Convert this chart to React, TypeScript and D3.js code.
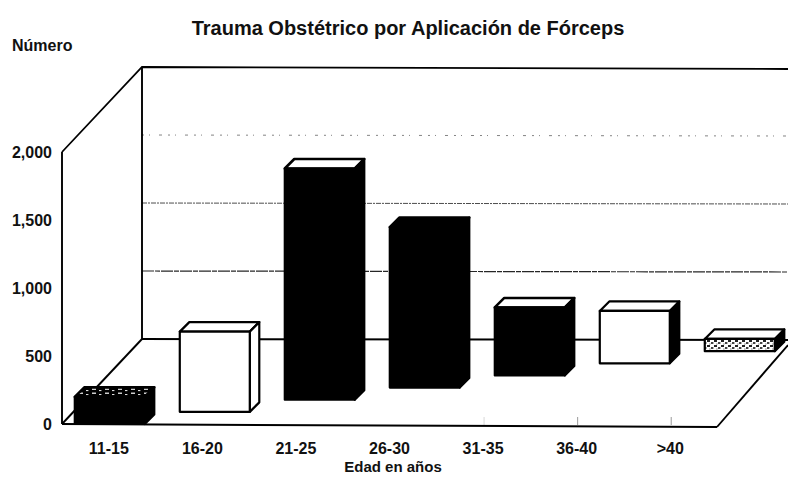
import React from "react";
import * as d3 from "d3";

const categories = ["11-15", "16-20", "21-25", "26-30", "31-35", "36-40", ">40"];
const values = [200, 590, 1700, 1180, 500, 385, 90];
const yTicks = [0, 500, 1000, 1500, 2000];
const title = "Trauma Obstétrico por Aplicación de Fórceps";
const yTitle = "Número";
const xTitle = "Edad en años";

const W = 788, H = 480;
const FONT = "'Liberation Sans', Arial, sans-serif";
const frontLeft = 62, frontRight = 717, frontBase = 424, frontTop = 152;
const depthX = 80, depthY = 85;

// face looks per bar: [front, top, side]
const looks = [
  ["#000", "url(#speck)", "#000"],
  ["#fff", "#fff", "#fff"],
  ["#000", "#fff", "#000"],
  ["#000", "#000", "#000"],
  ["#000", "#fff", "#000"],
  ["#fff", "#fff", "#000"],
  ["url(#speck2)", "#fff", "#000"],
];

const gridLooks = new Map<number, { dash: string; width: number; opacity: number }>([
  [500, { dash: "12 1 5 1", width: 1.2, opacity: 0.85 }],
  [1000, { dash: "5 1 2 1", width: 1, opacity: 0.7 }],
  [1500, { dash: "2 5 1 9 3 6", width: 0.9, opacity: 0.55 }],
]);

const x = d3.scaleBand<string>().domain(categories).range([frontLeft, frontRight]);
const y = d3.scaleLinear().domain([0, 2000]).range([frontBase, frontTop]);
const depth = d3.scaleLinear().domain([0, categories.length]).range([0, 1]);

const poly = (pts: [number, number][]) => {
  const p = d3.path();
  pts.forEach(([a, b], i) => (i ? p.lineTo(a, b) : p.moveTo(a, b)));
  p.closePath();
  return p.toString();
};

const labelStyle = { fontFamily: FONT, fontWeight: 700, fill: "#111" } as const;

export default function App() {
  const barW = 70;
  const barD = 9.5;
  return (
    <svg width={W} height={H} viewBox={`0 0 ${W} ${H}`} style={{ position: "absolute", left: 0, top: 0, background: "#fff" }}>
      <defs>
        <pattern id="speck" width="13" height="4" patternUnits="userSpaceOnUse">
          <rect width="13" height="4" fill="#000" />
          <rect x="1" y="0.6" width="4" height="1.2" fill="#fff" />
          <rect x="8" y="2" width="2.4" height="1.1" fill="#ddd" />
        </pattern>
        <pattern id="speck2" width="7" height="5" patternUnits="userSpaceOnUse">
          <rect width="7" height="5" fill="#fff" />
          <rect x="0" y="0" width="3" height="2" fill="#222" />
          <rect x="4" y="2" width="2.4" height="2" fill="#444" />
          <rect x="2.4" y="3.4" width="1" height="1.2" fill="#666" />
        </pattern>
      </defs>

      <text x={408} y={35} textAnchor="middle" fontSize={20} style={labelStyle}>{title}</text>
      <text x={12} y={51} fontSize={16} style={labelStyle}>{yTitle}</text>

      {/* walls */}
      {yTicks.filter((t) => gridLooks.has(t)).map((t) => {
        const g = gridLooks.get(t)!;
        return (
          <line key={t} x1={frontLeft + depthX} x2={W} y1={y(t) - depthY} y2={y(t) - depthY + 1}
            stroke="#000" strokeWidth={g.width} strokeOpacity={g.opacity} strokeDasharray={g.dash} />
        );
      })}
      <path d={poly([[frontLeft, y(2000)], [frontLeft + depthX, y(2000) - depthY], [W, y(2000) - depthY + 2]]).replace("Z", "")} fill="none" stroke="#000" strokeWidth={1.8} />
      <line x1={frontLeft} x2={frontLeft} y1={y(2000)} y2={y(0)} stroke="#000" strokeWidth={1.9} />
      <line x1={frontLeft + depthX} x2={frontLeft + depthX} y1={y(2000) - depthY} y2={y(0) - depthY} stroke="#000" strokeWidth={1.9} />
      {/* floor */}
      <line x1={frontLeft} y1={y(0)} x2={frontLeft + depthX} y2={y(0) - depthY} stroke="#000" strokeWidth={1.9} />
      <line x1={frontLeft + depthX} y1={y(0) - depthY} x2={W} y2={y(0) - depthY + 1} stroke="#000" strokeWidth={2} />
      <line x1={frontLeft} y1={y(0)} x2={frontRight} y2={y(0) + 3} stroke="#000" strokeWidth={2} />
      <line x1={frontRight} y1={y(0) + 3} x2={W} y2={y(0) - depthY + 6} stroke="#000" strokeWidth={1.9} />
      {categories.slice(4).map((c, i) => (
        <line key={c} x1={x(c)! + x.bandwidth() / 2 + 1} x2={x(c)! + x.bandwidth() / 2 + 1} y1={y(0) - 7} y2={y(0) + 1} stroke="#000" strokeOpacity={i === 0 ? 0.2 : 0.5} strokeWidth={0.8} />
      ))}

      {/* bars */}
      {categories.map((c, i) => {
        const f = depth(i);
        const cx = x(c)! + x.bandwidth() / 2 + f * depthX + 1;
        const l = cx - barW / 2, r = cx + barW / 2;
        const b = y(0) - f * depthY;
        const t = b - (y(0) - y(values[i]));
        const [front, top, side] = looks[i];
        const dark = front === "#000";
        return (
          <g key={c} stroke="#000" strokeWidth={2.2} strokeLinejoin="round">
            <path d={poly([[l, t], [l + barD, t - barD], [r + barD, t - barD], [r, t]])} fill={top} strokeWidth={dark ? 2.6 : 2.2} />
            <path d={poly([[r, t], [r + barD, t - barD], [r + barD, b - barD], [r, b]])} fill={side} />
            <path d={poly([[l, t], [r, t], [r, b], [l, b]])} fill={front} />
          </g>
        );
      })}

      {/* axis labels */}
      {yTicks.map((t) => (
        <text key={t} x={52} y={y(t) + 5.5} textAnchor="end" fontSize={16} style={labelStyle}>{d3.format(",")(t)}</text>
      ))}
      {categories.map((c) => (
        <text key={c} x={x(c)! + x.bandwidth() / 2} y={454} textAnchor="middle" fontSize={16} style={labelStyle}>{c}</text>
      ))}
      <text x={393} y={472} textAnchor="middle" fontSize={15} style={labelStyle}>{xTitle}</text>
    </svg>
  );
}
